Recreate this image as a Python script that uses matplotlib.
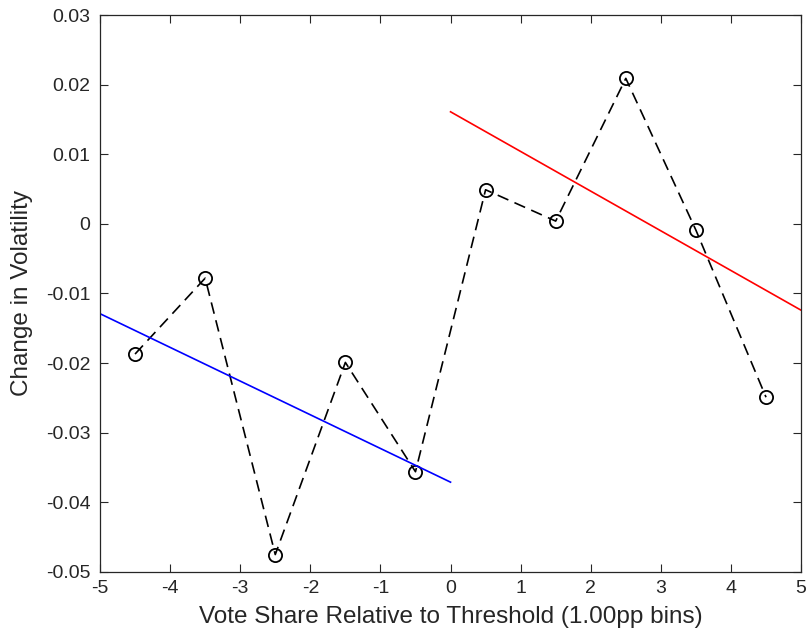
import matplotlib
matplotlib.use('Agg')
import matplotlib.pyplot as plt
import numpy as np

# binned means
bin_centers = [-4.5, -3.5, -2.5, -1.5, -0.5, 0.5, 1.5, 2.5, 3.5, 4.5]
bin_means = [-0.0187, -0.0078, -0.0475, -0.0199, -0.0356,
             0.0049, 0.0004, 0.0209, -0.0009, -0.0249]

# linear fits on each side of the threshold (endpoints)
left_fit_x = [-5, 0]
left_fit_y = [-0.0129, -0.0371]
right_fit_x = [0, 5]
right_fit_y = [0.0161, -0.0124]

x_ticks = [-5, -4, -3, -2, -1, 0, 1, 2, 3, 4, 5]
y_ticks = [-0.05, -0.04, -0.03, -0.02, -0.01, 0, 0.01, 0.02, 0.03]
y_tick_labels = ['-0.05', '-0.04', '-0.03', '-0.02', '-0.01', '0',
                 '0.01', '0.02', '0.03']

plt.rcParams['font.family'] = ['Liberation Sans', 'DejaVu Sans']
axcol = '#262626'

fig = plt.figure(figsize=(8.09, 6.39), dpi=100)
ax = fig.add_axes([0.1236, 0.1049, 0.8666, 0.8716])

ax.plot(bin_centers, bin_means, 'k--o', markerfacecolor='none',
        markersize=9.5, linewidth=1.2, dashes=(7, 4), markeredgewidth=1.3)
ax.plot(left_fit_x, left_fit_y, color='blue', linewidth=1.2)
ax.plot(right_fit_x, right_fit_y, color='red', linewidth=1.2)

ax.set_xlim(-5, 5)
ax.set_ylim(-0.05, 0.03)
ax.set_xticks(x_ticks)
ax.set_xticklabels([str(v) for v in x_ticks])
ax.set_yticks(y_ticks)
ax.set_yticklabels(y_tick_labels)

ax.tick_params(direction='in', top=True, right=True, length=6, width=0.8,
               colors=axcol, labelsize=14, labelcolor=axcol)
ax.tick_params(axis='y', pad=7)
ax.tick_params(axis='x', pad=6)
for s in ax.spines.values():
    s.set_color(axcol)
    s.set_linewidth(0.9)

ax.set_xlabel('Vote Share Relative to Threshold (1.00pp bins)', fontsize=17.5,
              color=axcol, labelpad=6)
ax.set_ylabel('Change in Volatility', fontsize=17.5, color=axcol, labelpad=9)

plt.savefig('out.png', dpi=100)
